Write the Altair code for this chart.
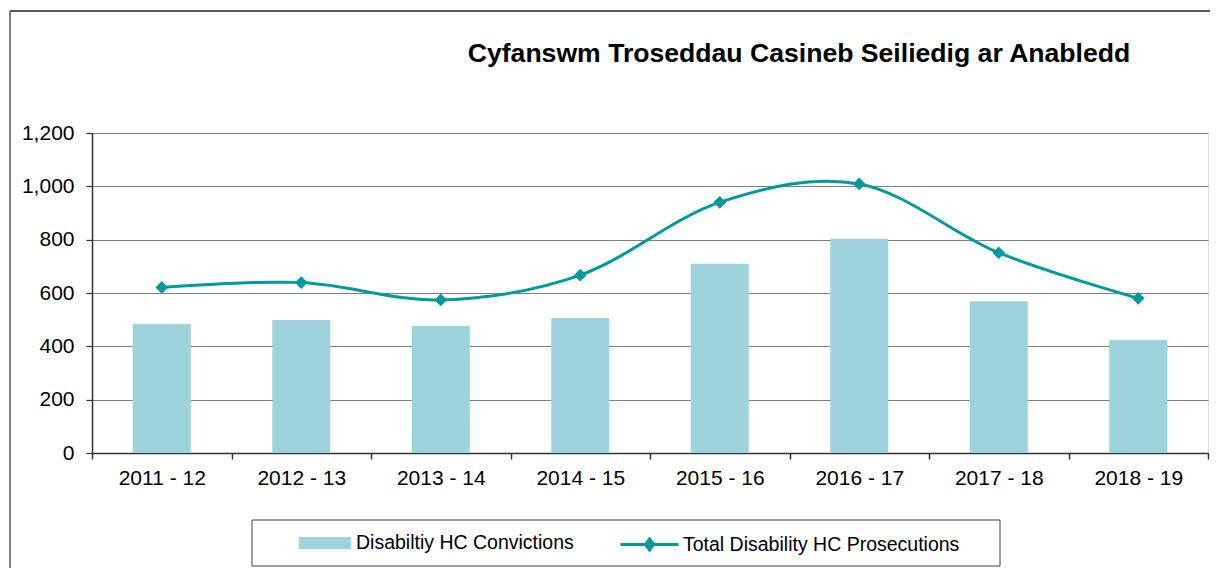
import altair as alt
import pandas as pd

periods = ["2011 - 12", "2012 - 13", "2013 - 14", "2014 - 15",
           "2015 - 16", "2016 - 17", "2017 - 18", "2018 - 19"]
convictions = [484, 499, 476, 506, 710, 803, 569, 424]
prosecutions = [621, 639, 574, 667, 940, 1009, 751, 580]
y_ticks = [0, 200, 400, 600, 800, 1000, 1200]
bar_label = "Disabiltiy HC Convictions"
line_label = "Total Disability HC Prosecutions"
title_text = "Cyfanswm Troseddau Casineb Seiliedig ar Anabledd"

BAR = "#9DD3DC"
LINE = "#009A9E"
FONT = "Liberation Sans"
DARK = "#333333"

df = pd.DataFrame({
    "period": periods,
    "conv": convictions,
    "pros": prosecutions,
    "s_bar": [bar_label] * len(periods),
    "s_line": [line_label] * len(periods),
})

x_enc = alt.X(
    "period:N", sort=periods, title=None,
    scale=alt.Scale(paddingInner=0, paddingOuter=0),
    axis=alt.Axis(tickBand="extent", labelAngle=0, grid=False, tickSize=6,
                  labelPadding=8, labelFontSize=21, labelFont=FONT,
                  labelColor="black", domainColor=DARK, domainWidth=1.5,
                  tickColor=DARK, tickWidth=1.5),
)
y_axis = alt.Axis(values=y_ticks, format=",d", grid=True, gridColor="#808080",
                  gridWidth=1.2, tickSize=6, tickColor=DARK, tickWidth=1.2,
                  labelPadding=12, labelFontSize=21, labelFont=FONT,
                  labelColor="black", domainColor=DARK, domainWidth=1.5)
y_scale = alt.Scale(domain=[0, 1200], nice=False)

base = alt.Chart(df)

bars = base.mark_bar(size=58).encode(
    x=x_enc,
    y=alt.Y("conv:Q", title=None, scale=y_scale, axis=y_axis),
    fill=alt.Fill(
        "s_bar:N",
        scale=alt.Scale(domain=[bar_label], range=[BAR]),
        legend=alt.Legend(
            title=None, orient="none", legendX=207, legendY=384,
            symbolType="M-1,-0.23H1V0.23H-1Z", symbolSize=2704,
            symbolStrokeWidth=0, symbolOpacity=1,
            labelFontSize=19.5, labelFont=FONT, labelColor="black",
            labelOffset=5, labelLimit=500, padding=0,
        ),
    ),
)

line = base.mark_line(interpolate="cardinal", strokeWidth=3).encode(
    x=x_enc,
    y=alt.Y("pros:Q", title=None, scale=y_scale, axis=y_axis),
    stroke=alt.Stroke(
        "s_line:N",
        scale=alt.Scale(domain=[line_label], range=[LINE]),
        legend=alt.Legend(
            title=None, orient="none", legendX=527, legendY=381,
            symbolType="M-1,0H1M0,-0.19L0.14,0L0,0.19L-0.14,0Z",
            symbolSize=3364, symbolStrokeWidth=3, symbolFillColor=LINE,
            labelFontSize=19.5, labelFont=FONT, labelColor="black",
            labelOffset=3, labelLimit=500, padding=0,
        ),
    ),
)

points = base.mark_point(shape="diamond", filled=True, size=160,
                         opacity=1, color=LINE).encode(
    x=x_enc,
    y=alt.Y("pros:Q", title=None, scale=y_scale, axis=y_axis),
)

one = alt.Data(values=[{"k": 1}])
title_mark = alt.Chart(one).mark_text(
    text=title_text, font=FONT, fontSize=26.6, fontWeight="bold",
    color="black", align="center", baseline="alphabetic",
).encode(x=alt.value(707), y=alt.value(-71))
legend_box = alt.Chart(one).mark_rect(fill="white", fillOpacity=0,
                                      stroke="#404040", strokeWidth=1).encode(
    x=alt.value(160), x2=alt.value(908), y=alt.value(387), y2=alt.value(433)
)
border_top = alt.Chart(one).mark_rule(color="#222222", strokeWidth=1.5).encode(
    x=alt.value(-82), x2=alt.value(1140), y=alt.value(-122)
)
border_left = alt.Chart(one).mark_rule(color="#555555", strokeWidth=1.5).encode(
    x=alt.value(-82), y=alt.value(-122), y2=alt.value(460)
)

chart = alt.layer(bars, line, points, title_mark, legend_box,
                  border_top, border_left).properties(
    width=1116,
    height=320,
    padding={"left": 84, "top": 125, "right": 2, "bottom": 115},
    autosize=alt.AutoSizeParams(type="none"),
).configure_view(stroke="#808080", strokeWidth=2).configure(background="white")

chart.save("out.html", embed_options={"renderer": "svg", "actions": False})
